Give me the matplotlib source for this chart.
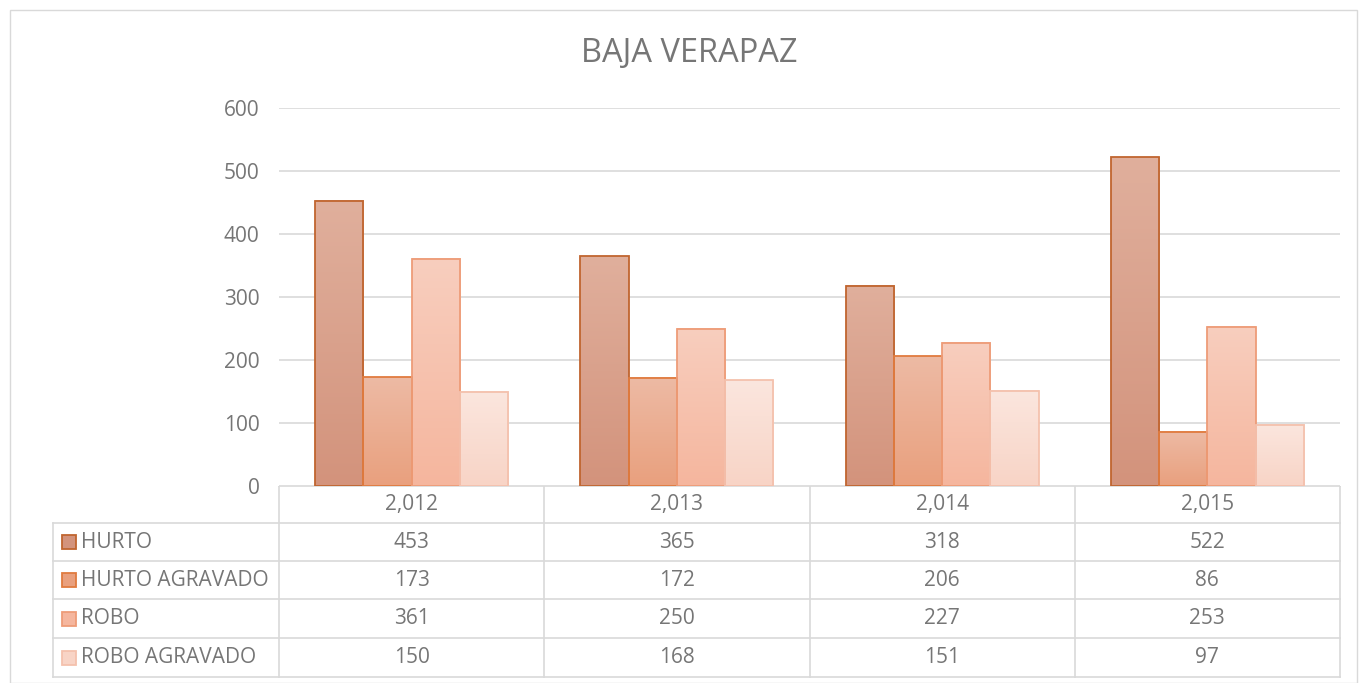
import numpy as np
import matplotlib.pyplot as plt
from matplotlib.colors import LinearSegmentedColormap
from matplotlib.patches import Rectangle

plt.rcParams['font.family'] = ['Open Sans', 'DejaVu Sans']

years = ['2,012', '2,013', '2,014', '2,015']
series = ['HURTO', 'HURTO AGRAVADO', 'ROBO', 'ROBO AGRAVADO']
hurto = [453, 365, 318, 522]
hurto_agr = [173, 172, 206, 86]
robo = [361, 250, 227, 253]
robo_agr = [150, 168, 151, 97]
values = [hurto, hurto_agr, robo, robo_agr]

# (top colour, bottom colour, edge colour)
colors = [('#E0AF9C', '#D3937C', '#C0652F'),
          ('#EDBAA4', '#E9A07E', '#E07B3F'),
          ('#F8CEBE', '#F5B69E', '#EE9C78'),
          ('#FBE6DE', '#F8D4C6', '#F4C1AD')]
grey = '#767676'
line = '#D9D9D9'
fs = 15

W, H = 1359, 683
fig = plt.figure(figsize=(W / 100, H / 100), dpi=100)

def box(l, t, r, b):
    return [l / W, 1 - b / H, (r - l) / W, (b - t) / H]

# outer chart border
fig.patches.append(Rectangle((10 / W, 0), (W - 12) / W, (H - 10) / H,
                             transform=fig.transFigure, fill=False,
                             edgecolor=line, lw=1))

ax = fig.add_axes(box(279, 108, 1340, 486))
ax.set_xlim(-0.5, 3.5)
ax.set_ylim(0, 600)
ax.set_yticks(range(0, 601, 100))
ax.yaxis.grid(True, color=line, lw=1.2)
ax.set_axisbelow(True)
for s in ax.spines.values():
    s.set_visible(False)
ax.tick_params(axis='y', length=0, labelsize=fs, labelcolor=grey, pad=14)
ax.set_xticks([])

bw = 0.182
for i, (vals, (top, bot, edge)) in enumerate(zip(values, colors)):
    cmap = LinearSegmentedColormap.from_list('g%d' % i, [bot, top])
    for j, v in enumerate(vals):
        x0 = j + (i - 2) * bw
        ax.imshow(np.linspace(0, 1, 100).reshape(-1, 1), cmap=cmap,
                  extent=[x0, x0 + bw, 0, v], origin='lower',
                  aspect='auto', zorder=2)
        ax.add_patch(Rectangle((x0, 0), bw, v, fill=False,
                               edgecolor=edge, lw=1.3, zorder=3))
ax.set_xlim(-0.5, 3.5)
ax.set_ylim(0, 600)

fig.text(689 / W, 1 - 54 / H, 'BAJA VERAPAZ', ha='center', va='center',
         fontsize=23.5, color=grey)

# data table
tb = fig.add_axes(box(0, 486, W, 683))
tb.set_xlim(0, W)
tb.set_ylim(683, 486)
tb.axis('off')
rows = [486, 523, 561, 599, 638, 677]
cols = [279 + k * 265.25 for k in range(5)]
for y in rows[1:]:
    tb.plot([53, 1340], [y, y], color=line, lw=1.2)
tb.plot([279, 1340], [486, 486], color=line, lw=1.2)
tb.plot([53, 53], [523, 677], color=line, lw=1.2)
for x in cols:
    tb.plot([x, x], [486, 677], color=line, lw=1.2)
for j, yr in enumerate(years):
    tb.text((cols[j] + cols[j + 1]) / 2, (rows[0] + rows[1]) / 2, yr,
            ha='center', va='center', fontsize=fs, color=grey)
for i, name in enumerate(series):
    yc = (rows[i + 1] + rows[i + 2]) / 2
    top, bot, edge = colors[i]
    tb.add_patch(Rectangle((62, yc - 7), 14, 14, facecolor=bot,
                           edgecolor=edge, lw=1.3))
    tb.text(81, yc, name, ha='left', va='center', fontsize=fs, color=grey)
    for j, v in enumerate(values[i]):
        tb.text((cols[j] + cols[j + 1]) / 2, yc, str(v), ha='center',
                va='center', fontsize=fs, color=grey)

fig.savefig('out.png', dpi=100)
